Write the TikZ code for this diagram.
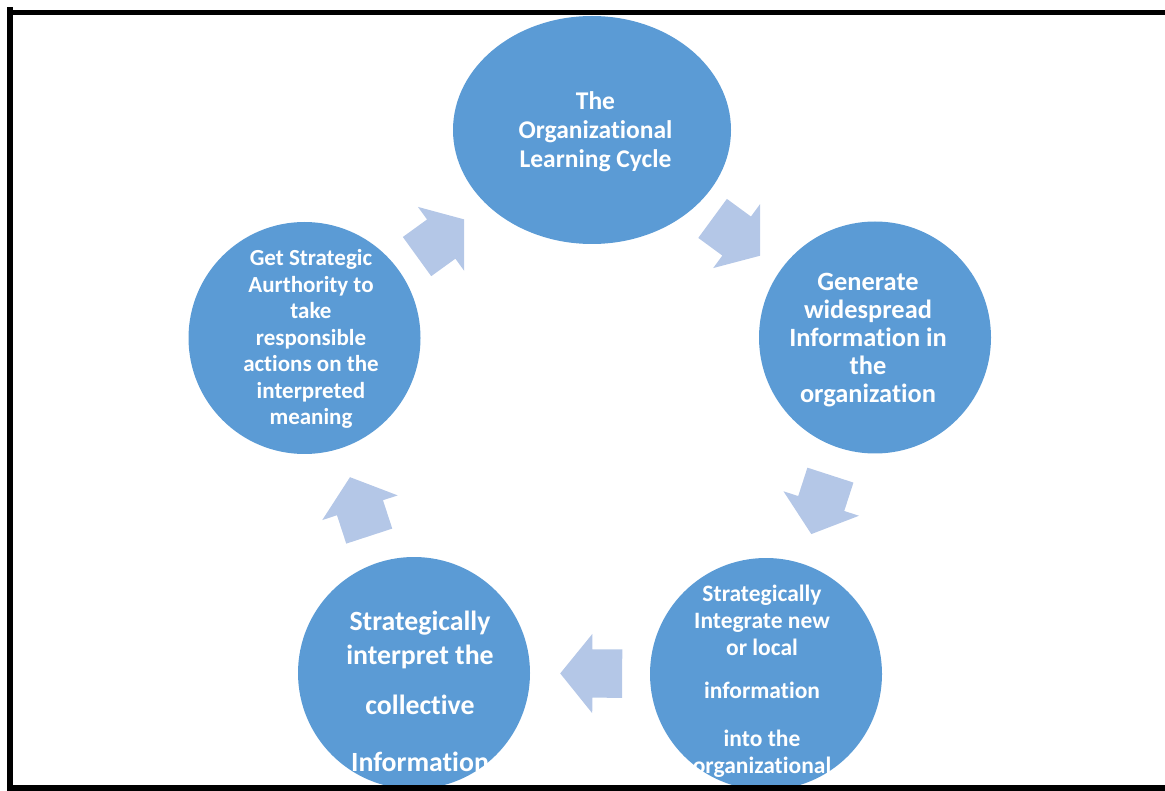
\documentclass[tikz,border=0pt]{standalone}
\usepackage{fontspec}
\setmainfont{Carlito}[Ligatures = CommonOff]
\usetikzlibrary{shapes.geometric, shapes.arrows}

\definecolor{stageblue}{RGB}{91,155,213}
\definecolor{arrowblue}{RGB}{180,199,231}
\newcommand{\lblfont}[2]{\bfseries\fontsize{#1}{#2}\selectfont}

\begin{document}
\begin{tikzpicture}[x = 1pt, y = -1pt]
    \useasboundingbox (0, 0) rectangle (1165, 791);
    \clip (0, 0) rectangle (1165, 791);

    \tikzstyle{stage} = [circle, fill = stageblue, minimum size = 232pt, inner sep = 0pt]
    \tikzstyle{turn} = [single arrow, fill = arrowblue, inner sep = 0pt, inner ysep = 24pt,
        minimum height = 62pt, minimum width = 79pt, single arrow head extend = 15.5pt,
        single arrow tip angle = 102, sloped, allow upside down, xshift = -11pt]
    \tikzstyle{lbl} = [text = white, align = center, inner sep = 0pt]

    % the five stages
    \node[ellipse, fill = stageblue, minimum width = 278pt, minimum height = 228pt,
        inner sep = 0pt] (top) at (592, 130) {};
    \node[stage] (right) at (875, 337.5) {};
    \node[stage] (br) at (766, 674) {};
    \node[stage] (bl) at (414, 673) {};
    \node[stage] (left) at (304.5, 338) {};

    % arrows between them
    \begin{scope}
        \clip (0, 0) rectangle (760, 791);
        \path (top) -- (right) node[turn, midway] (a1) {};
    \end{scope}
    \path (right) -- (br) node[turn, midway] (a2) {};
    \path (br) -- (bl) node[turn, midway] (a3) {};
    \path (bl) -- (left) node[turn, midway] (a4) {};
    \begin{scope}
        \clip (0, 0) rectangle (464, 791);
        \path (left) -- (top) node[turn, midway] (a5) {};
    \end{scope}

    \node[lbl, font = \lblfont{25.5}{29}] (ttop) at (595.5, 132)
        {The\\Organizational\\Learning Cycle};
    \node[lbl, font = \lblfont{26.4}{27.8}] (tright) at (868, 340)
        {Generate\\widespread\\Information in\\the\\organization};
    \node[lbl, font = \lblfont{23.5}{27}] (tbr) at (762, 692.5)
        {Strategically\\Integrate new\\or local\\[16pt]information\\[21pt]into the\\organizational\\context};
    \node[lbl, font = \lblfont{27.8}{34}] (tbl) at (420, 691.5)
        {Strategically\\interpret the\\[16pt]collective\\[23pt]Information};
    \node[lbl, font = \lblfont{23}{26.5}] (tleft) at (311, 339)
        {Get Strategic\\Aurthority to\\take\\responsible\\actions on the\\interpreted\\meaning};

    % frame
    \fill (7, 10) rectangle (1165, 15.5);
    \fill (7, 7) rectangle (13, 791);
    \fill (7, 785) rectangle (1165, 791);
\end{tikzpicture}
\end{document}
